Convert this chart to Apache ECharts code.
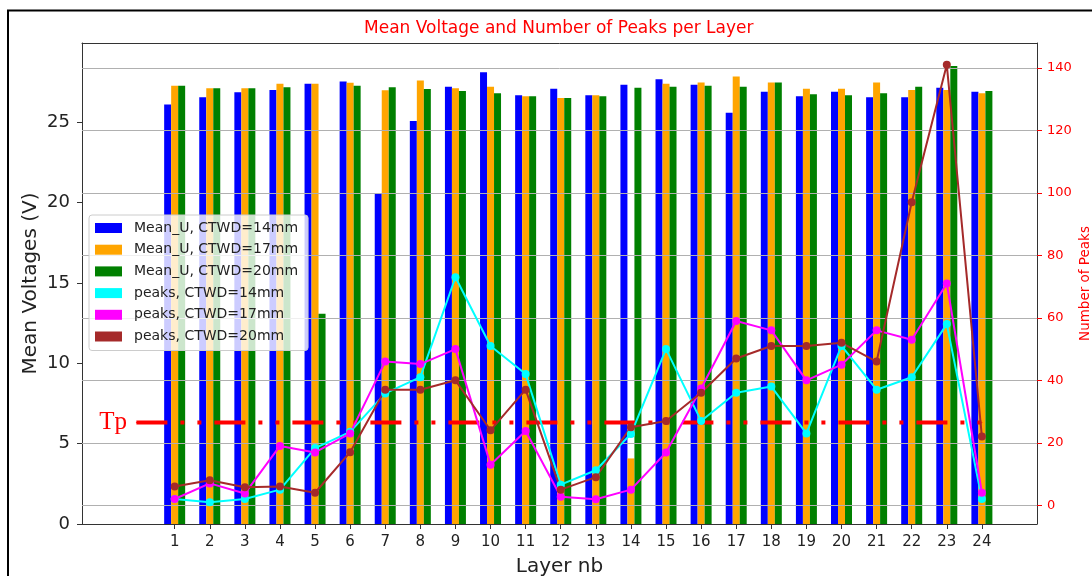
<!DOCTYPE html>
<html><head><meta charset="utf-8">
<script src="https://cdn.jsdelivr.net/npm/echarts@6/dist/echarts.min.js"></script>
<style>html,body{margin:0;padding:0;background:#fff}#c{width:1092px;height:576px}</style>
</head><body><div id="c"></div>
<script>
// ---- data ----
const layers = [1,2,3,4,5,6,7,8,9,10,11,12,13,14,15,16,17,18,19,20,21,22,23,24];
const meanU14 = [26.1,26.56,26.87,27.01,27.39,27.53,20.55,25.07,27.2,28.11,26.68,27.08,26.68,27.33,27.68,27.33,25.59,26.89,26.62,26.89,26.56,26.56,27.14,26.89];
const meanU17 = [27.27,27.12,27.12,27.39,27.39,27.45,26.99,27.6,27.12,27.2,26.62,26.5,26.68,4.08,27.39,27.47,27.84,27.47,27.08,27.08,27.47,27.01,27.01,26.81];
const meanU20 = [27.27,27.12,27.12,27.18,13.09,27.27,27.18,27.06,26.95,26.81,26.62,26.5,26.62,27.14,27.2,27.27,27.2,27.47,26.74,26.68,26.81,27.2,28.5,26.95];
const peaks14 = [2,1,2,5,18.3,23.5,35.8,41,73,51,42,6.6,11.2,22.8,50,27,36,38,23,51,37,41,58,2];
const peaks17 = [2,7,3.75,19,16.9,23,46,45.2,50,13,23.8,2.7,1.9,5,16.9,37.4,59,56,40,45,56,53,71,4];
const peaks20 = [6,8,5.8,6,4,17,37,37,40,24,37,5,9,25,27,36,47,51,51,52,46,97,141,22];
const tpValue = 26.5;
const tpRange = [-0.09, 24];
const voltTicks = [0,5,10,15,20,25];
const peakTicks = [0,20,40,60,80,100,120,140];
const names = ['Mean_U, CTWD=14mm','Mean_U, CTWD=17mm','Mean_U, CTWD=20mm','peaks, CTWD=14mm','peaks, CTWD=17mm','peaks, CTWD=20mm'];

const FONT = 'DejaVu Sans';
const pairs = arr => arr.map((v, i) => [layers[i], v]);
const barSeries = (name, color, data) => ({
  name, type: 'bar', xAxisIndex: 0, yAxisIndex: 0, data: pairs(data),
  barWidth: 7, barGap: '0%', itemStyle: {color}, z: 2
});
const lineSeries = (name, color, data) => ({
  name, type: 'line', xAxisIndex: 0, yAxisIndex: 1, data: pairs(data),
  symbol: 'circle', symbolSize: 8, showSymbol: true,
  lineStyle: {color, width: 2}, itemStyle: {color}, z: 5
});

const chart = echarts.init(document.getElementById('c'), null, {renderer: 'canvas'});
chart.setOption({
  animation: false,
  textStyle: {fontFamily: FONT},
  title: {
    text: 'Mean Voltage and Number of Peaks per Layer',
    left: 364, top: 20, padding: 0,
    textStyle: {color: '#ff0000', fontSize: 17, fontWeight: 'normal', fontFamily: FONT}
  },
  graphic: [{
    type: 'rect', silent: true, z: 100,
    shape: {x: 8, y: 10.5, width: 1100, height: 600},
    style: {fill: 'none', stroke: '#000', lineWidth: 2}
  }],
  grid: {left: 82, right: 55, top: 43, bottom: 52, outerBoundsMode: 'none', containLabel: false},
  legend: {
    orient: 'vertical', left: 89, top: 215, data: names, icon: 'rect',
    itemWidth: 27, itemHeight: 10, itemGap: 7.7, padding: [6, 10, 7, 6],
    selectedMode: false,
    backgroundColor: 'rgba(255,255,255,0.8)', borderColor: '#cccccc', borderWidth: 1, borderRadius: 3,
    textStyle: {fontSize: 14, fontFamily: FONT, color: '#222', lineHeight: 14, padding: [0, 0, 0, 7]},
    z: 10
  },
  xAxis: [{
    type: 'value', min: -1.64, max: 25.57,
    name: 'Layer nb', nameLocation: 'middle', nameGap: 33, nameMoveOverlap: false,
    nameTextStyle: {fontSize: 20, color: '#222', fontFamily: FONT},
    axisLine: {show: true, onZero: false, lineStyle: {color: '#333', width: 1}},
    axisTick: {show: true, length: 5, customValues: layers, lineStyle: {color: '#333'}},
    axisLabel: {customValues: layers, fontSize: 15, color: '#222', margin: 11, fontFamily: FONT},
    splitLine: {show: false}
  }, {
    type: 'value', min: -1.64, max: 25.57, position: 'top',
    axisLine: {show: true, onZero: false, lineStyle: {color: '#333', width: 1}},
    axisTick: {show: false}, axisLabel: {show: false}, splitLine: {show: false}
  }],
  yAxis: [{
    type: 'value', min: 0, max: 29.93, position: 'left',
    name: 'Mean Voltages (V)', nameLocation: 'middle', nameRotate: 90, nameGap: 41, nameMoveOverlap: false,
    nameTextStyle: {fontSize: 20, color: '#222', fontFamily: FONT},
    axisLine: {show: true, onZero: false, lineStyle: {color: '#333', width: 1}},
    axisTick: {show: true, length: 5, customValues: voltTicks, lineStyle: {color: '#333'}},
    axisLabel: {customValues: voltTicks, fontSize: 18, color: '#222', margin: 12, fontFamily: FONT},
    splitLine: {show: false}
  }, {
    type: 'value', min: -6, max: 148, position: 'right', z: 4,
    name: 'Number of Peaks', nameLocation: 'middle', nameRotate: 90, nameGap: 41, nameMoveOverlap: false,
    nameTextStyle: {fontSize: 13.5, color: '#ff0000', fontFamily: FONT},
    axisLine: {show: true, onZero: false, lineStyle: {color: '#333', width: 1}},
    axisTick: {show: true, length: 5, customValues: peakTicks, lineStyle: {color: '#ff0000'}},
    axisLabel: {customValues: peakTicks, fontSize: 13, color: '#ff0000', margin: 10, fontFamily: FONT},
    splitLine: {show: true, lineStyle: {color: '#b0b0b0', width: 1}}
  }],
  series: [
    barSeries(names[0], '#0000ff', meanU14),
    barSeries(names[1], '#ffa500', meanU17),
    barSeries(names[2], '#008000', meanU20),
    {
      type: 'line', xAxisIndex: 0, yAxisIndex: 1, z: 3, silent: true,
      symbol: 'circle', symbolSize: 1, showSymbol: true,
      itemStyle: {color: '#ff0000'},
      lineStyle: {color: '#ff0000', width: 4, type: [31, 13, 4, 13, 4, 13], cap: 'butt'},
      data: [
        {value: [tpRange[0], tpValue], label: {show: true, position: 'left', distance: 9, formatter: 'Tp',
          fontFamily: 'Liberation Serif', fontSize: 25, color: '#ff0000'}},
        {value: [tpRange[1], tpValue]}
      ]
    },
    lineSeries(names[3], '#00ffff', peaks14),
    lineSeries(names[4], '#ff00ff', peaks17),
    lineSeries(names[5], '#a52a2a', peaks20)
  ]
});
</script></body></html>
